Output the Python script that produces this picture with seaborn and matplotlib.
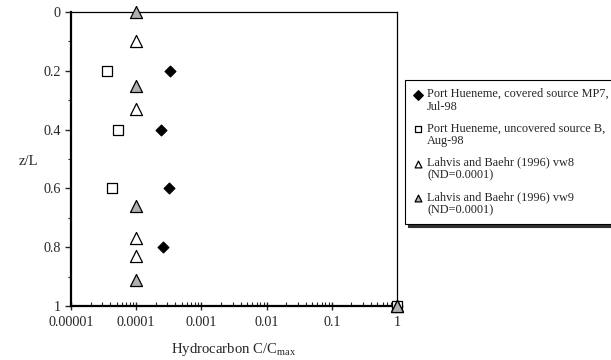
import numpy as np
import pandas as pd
import matplotlib
matplotlib.use("Agg")
import matplotlib.pyplot as plt
import seaborn as sns
from matplotlib.ticker import LogLocator, FixedLocator, NullFormatter, FixedFormatter

sns.set_style("ticks")
plt.rcParams['font.family'] = ['Liberation Serif', 'DejaVu Serif']
plt.rcParams['mathtext.fontset'] = 'custom'
plt.rcParams['mathtext.rm'] = 'Liberation Serif'
plt.rcParams['mathtext.it'] = 'Liberation Serif:italic'

# Data
mp7_c = [3.3e-4, 2.4e-4, 3.2e-4, 2.6e-4, 1.0]
mp7_z = [0.2, 0.4, 0.6, 0.8, 1.0]
srcb_c = [3.6e-5, 5.3e-5, 4.2e-5, 1.0]
srcb_z = [0.2, 0.4, 0.6, 1.0]
vw8_c = [1e-4, 1e-4, 1e-4, 1e-4, 1.0]
vw8_z = [0.1, 0.33, 0.77, 0.83, 1.0]
vw9_c = [1e-4, 1e-4, 1e-4, 1e-4, 1.0]
vw9_z = [0.0, 0.25, 0.66, 0.91, 1.0]
labels = ["Port Hueneme, covered source MP7,\nJul-98",
          "Port Hueneme, uncovered source B,\nAug-98",
          "Lahvis and Baehr (1996) vw8\n(ND=0.0001)",
          "Lahvis and Baehr (1996) vw9\n(ND=0.0001)"]
x_ticks = [1e-5, 1e-4, 1e-3, 1e-2, 1e-1, 1]
x_ticklabels = ["0.00001", "0.0001", "0.001", "0.01", "0.1", "1"]
y_ticks = [0, 0.2, 0.4, 0.6, 0.8, 1]
y_ticklabels = ["0", "0.2", "0.4", "0.6", "0.8", "1"]

fig = plt.figure(figsize=(6.11, 3.6), dpi=100)
ax = fig.add_axes([71/611, 1-306/360, (397-71)/611, (306-12)/360])

series = [
    (mp7_c, mp7_z, 'D', 'black', 'black', 30),
    (srcb_c, srcb_z, 's', 'white', 'black', 62),
    (vw8_c, vw8_z, '^', 'white', 'black', 75),
    (vw9_c, vw9_z, '^', '#b0b0b0', 'black', 75),
]
for (c, z, m, fc, ec, s), lab in zip(series, labels):
    sns.scatterplot(x=c, y=z, marker=m, color=fc, edgecolor=ec, linewidth=0.9,
                    s=s, ax=ax, label=lab, clip_on=False, zorder=3)

ax.set_xscale('log')
ax.set_xlim(1e-5, 1)
ax.set_ylim(1, 0)
ax.xaxis.set_major_locator(FixedLocator(x_ticks))
ax.xaxis.set_major_formatter(FixedFormatter(x_ticklabels))
ax.xaxis.set_minor_locator(LogLocator(base=10, subs=np.arange(2, 10)))
ax.xaxis.set_minor_formatter(NullFormatter())
ax.yaxis.set_major_locator(FixedLocator(y_ticks))
ax.yaxis.set_major_formatter(FixedFormatter(y_ticklabels))
ax.yaxis.set_minor_locator(FixedLocator([0.1, 0.3, 0.5, 0.7, 0.9]))

ax.tick_params(axis='x', which='major', direction='inout', length=6, width=1, labelsize=10.2, pad=4)
ax.tick_params(axis='x', which='minor', direction='in', length=3, width=0.8)
ax.tick_params(axis='y', which='major', direction='out', length=4, width=1, labelsize=10.2)
ax.tick_params(axis='y', which='minor', direction='out', length=2.5, width=0.8)

for sp in ['left', 'bottom']:
    ax.spines[sp].set_linewidth(1.6)
for sp in ['top', 'right']:
    ax.spines[sp].set_linewidth(0.9)
    ax.spines[sp].set_visible(True)
for sp in ax.spines.values():
    sp.set_color('black')

ax.set_xlabel("Hydrocarbon C/C$_{\\mathrm{max}}$", fontsize=10.6, labelpad=9)
ax.set_ylabel("z/L", fontsize=10.6, rotation=0, va='center', ha='center')
ax.yaxis.set_label_coords(-0.13, 0.49)

leg = ax.legend(loc='upper left', bbox_to_anchor=(405/611, 1-80/360), bbox_transform=fig.transFigure,
                fontsize=8.8, frameon=True, fancybox=False,
                shadow={'color': '#303030', 'alpha': 1.0}, edgecolor='black',
                handletextpad=0.25, handlelength=0.9, labelspacing=0.75,
                borderpad=0.65, borderaxespad=0, framealpha=1)
leg.get_frame().set_linewidth(0.8)
for t in leg.get_texts():
    t.set_linespacing(1.13)
for h in leg.legend_handles:
    h.set_sizes([24])
    off = np.asarray(h.get_offsets(), dtype=float)
    off[:, 1] += 5.0
    h.set_offsets(off)

fig.savefig("out.png", dpi=100)
